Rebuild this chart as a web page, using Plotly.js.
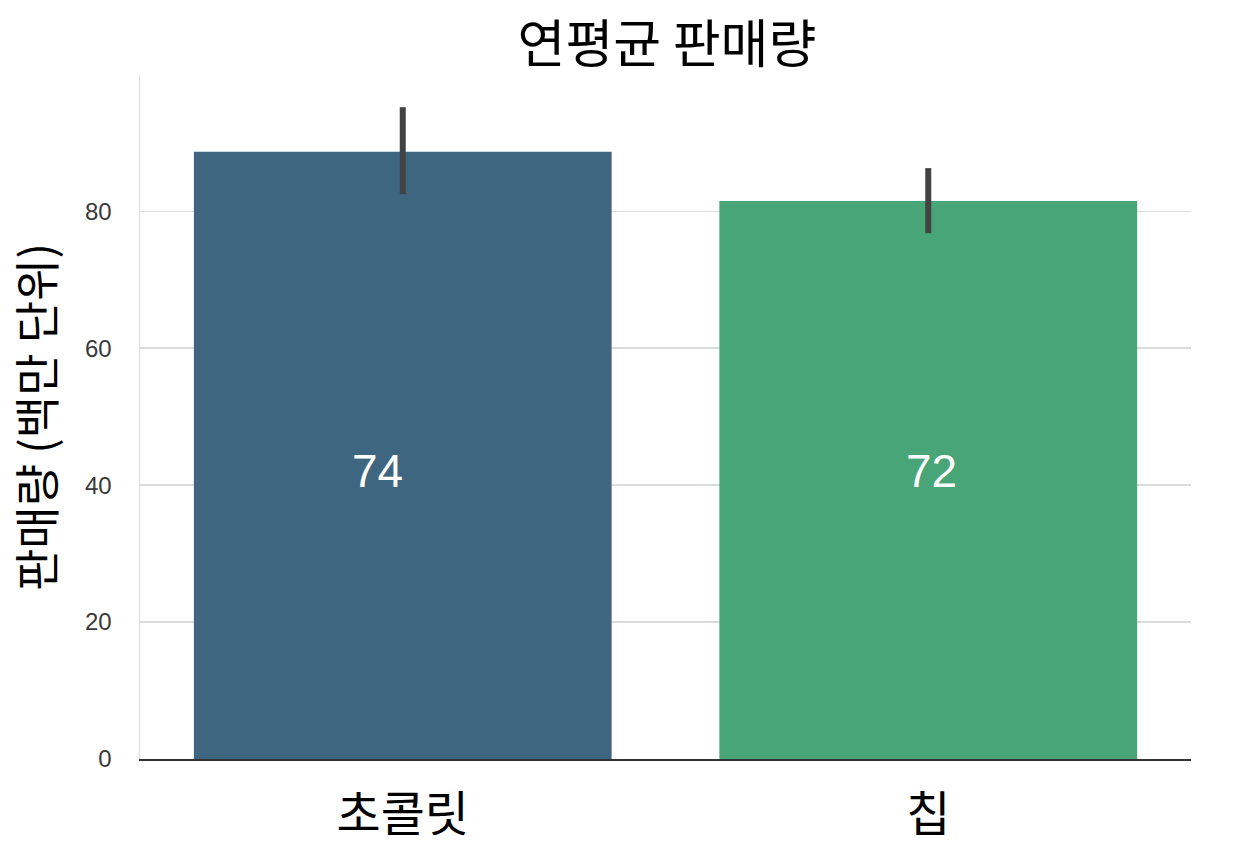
<!DOCTYPE html>
<html>
<head>
<meta charset="utf-8">
<script src="https://cdn.plot.ly/plotly-3.0.1.min.js"></script>
<style>html,body{margin:0;padding:0;background:#fff;}#chart{width:1235px;height:864px;}</style>
</head>
<body>
<div id="chart"></div>
<script>
const categories = ['초콜릿', '칩'];
const salesMean = [88.7, 81.5];
const errUpper = [6.5, 4.8];
const errLower = [6.2, 4.7];
const barLabels = ['74', '72'];
const barColors = ['#3f6680', '#48a578'];
const yTicks = [0, 20, 40, 60, 80];

const trace = {
  type: 'bar',
  x: categories,
  y: salesMean,
  width: 0.795,
  marker: {color: barColors, line: {width: 0}},
  error_y: {
    type: 'data', symmetric: false,
    array: errUpper, arrayminus: errLower,
    color: '#424242', thickness: 6, width: 0
  },
  hoverinfo: 'skip'
};

const labelShift = [-25, 3];
const annotations = categories.map((c, i) => ({
  x: c, y: 42, xref: 'x', yref: 'y',
  text: barLabels[i], showarrow: false, xshift: labelShift[i],
  font: {family: 'Liberation Sans, Arial, sans-serif', size: 46, color: '#ffffff'}
}));

const layout = {
  width: 1235, height: 864,
  margin: {l: 140, r: 44, t: 75, b: 105},
  paper_bgcolor: '#ffffff', plot_bgcolor: '#ffffff',
  showlegend: false,
  title: {
    text: '연평균 판매량', x: 0.54, xanchor: 'center', y: 0.948, yanchor: 'middle',
    font: {family: 'Noto Sans CJK KR, sans-serif', size: 52, color: '#000000'}
  },
  xaxis: {
    type: 'category', range: [-0.5, 1.5],
    showgrid: false, zeroline: false,
    showline: true, linecolor: '#333333', linewidth: 2,
    ticks: '', ticklabelstandoff: 12,
    tickfont: {family: 'Noto Sans CJK KR, sans-serif', size: 48, color: '#000000'}
  },
  yaxis: {
    range: [0, 99.9], tickvals: yTicks,
    showgrid: true, gridcolor: '#dcdcdc', gridwidth: 1.5,
    zeroline: false,
    showline: true, linecolor: '#dddddd', linewidth: 1.5,
    ticks: '', ticklabelstandoff: 22,
    tickfont: {family: 'Liberation Sans, Arial, sans-serif', size: 24, color: '#3a3a3a'},
    title: {
      text: '판매량 (백만 단위)', standoff: 16,
      font: {family: 'Noto Sans CJK KR, sans-serif', size: 46, color: '#000000'}
    }
  },
  annotations: annotations
};

Plotly.newPlot('chart', [trace], layout, {displayModeBar: false, staticPlot: true});
</script>
</body>
</html>
